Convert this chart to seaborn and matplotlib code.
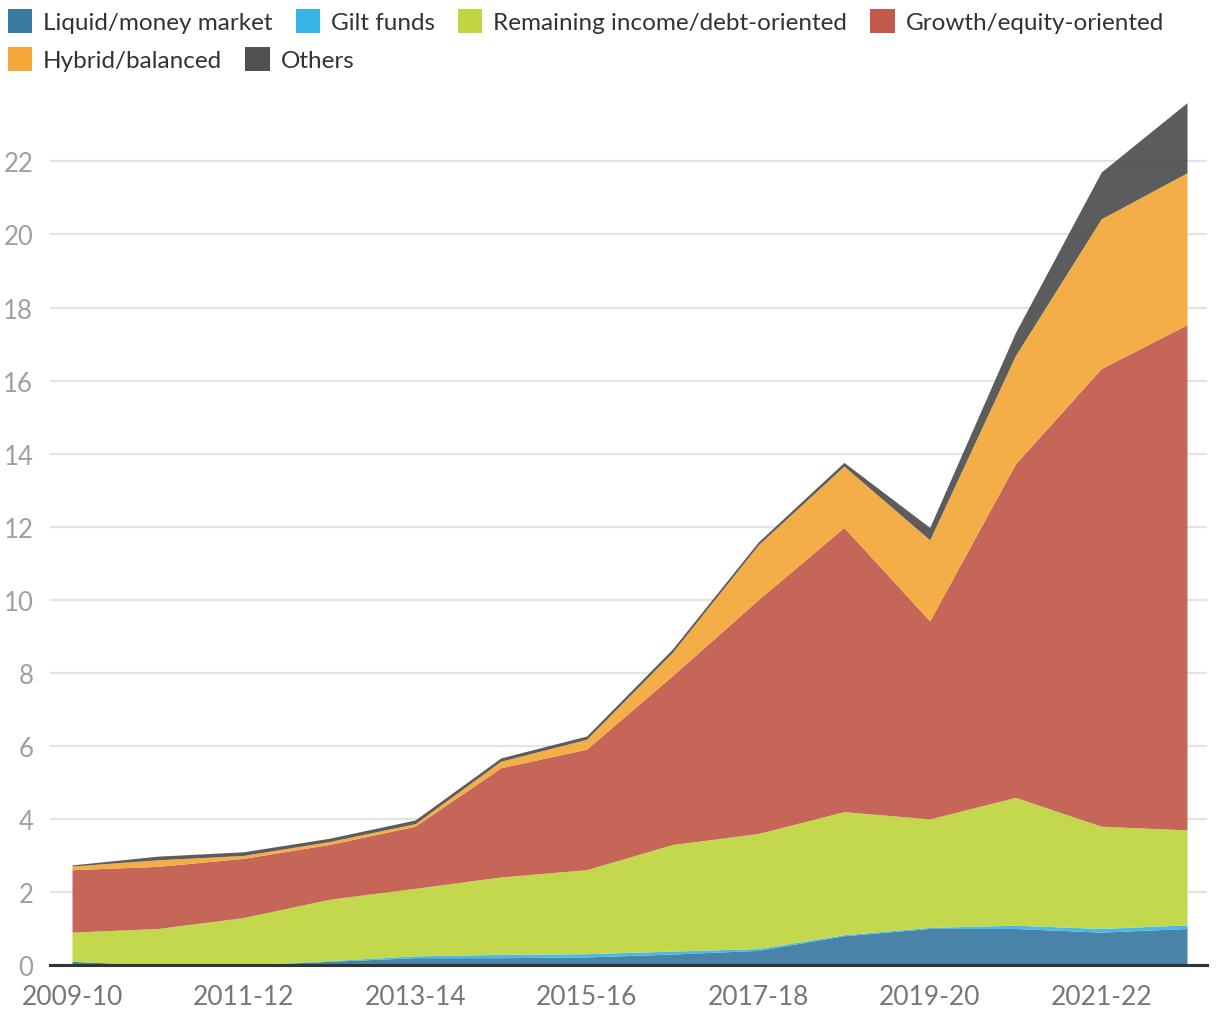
import pandas as pd
import seaborn as sns
import matplotlib.pyplot as plt
from matplotlib.patches import Patch

years = ['2009-10', '2010-11', '2011-12', '2012-13', '2013-14', '2014-15', '2015-16',
         '2016-17', '2017-18', '2018-19', '2019-20', '2020-21', '2021-22', '2022-23']

liquid = [0.1, 0.0, 0.0, 0.1, 0.2, 0.2, 0.22, 0.3, 0.4, 0.8, 1.0, 1.0, 0.9, 1.0]
gilt = [0.0, 0.0, 0.0, 0.02, 0.05, 0.09, 0.09, 0.08, 0.05, 0.03, 0.03, 0.09, 0.1, 0.1]
remaining = [0.8, 1.0, 1.3, 1.68, 1.85, 2.12, 2.3, 2.92, 3.15, 3.37, 2.97, 3.5, 2.8, 2.6]
growth = [1.71, 1.7, 1.62, 1.5, 1.7, 2.99, 3.3, 4.62, 6.4, 7.78, 5.42, 9.13, 12.53, 13.83]
hybrid = [0.1, 0.18, 0.08, 0.08, 0.07, 0.18, 0.27, 0.64, 1.5, 1.68, 2.22, 2.97, 4.1, 4.16]
others = [0.03, 0.1, 0.1, 0.09, 0.1, 0.09, 0.09, 0.09, 0.08, 0.1, 0.34, 0.63, 1.28, 1.92]

labels = ['Liquid/money market', 'Gilt funds', 'Remaining income/debt-oriented',
          'Growth/equity-oriented', 'Hybrid/balanced', 'Others']
# slightly deeper than the seen colours, since the areas are a bit see-through
colors = ['#3b7aa0', '#38b5e7', '#c0d540', '#c25a4b', '#f4a83a', '#505050']

df = pd.DataFrame({'year': years, labels[0]: liquid, labels[1]: gilt, labels[2]: remaining,
                   labels[3]: growth, labels[4]: hybrid, labels[5]: others})

sns.set_theme(style='whitegrid', rc={
    'axes.edgecolor': '#333333',
    'grid.color': '#e4e4e4',
    'grid.linewidth': 1.6,
    'xtick.major.size': 0,
    'ytick.major.size': 0,
})
plt.rcParams['font.family'] = ['Lato', 'DejaVu Sans']

fig = plt.figure(figsize=(12.2, 10.2), dpi=100)
ax = fig.add_axes([50 / 1220, 54 / 1020, 1157 / 1220, 862 / 1020])

x = list(range(len(years)))
ax.stackplot(x, *[df[l] for l in labels], colors=colors, alpha=0.93, linewidth=0, zorder=2)

ax.set_xlim(-22 / 85.77, 13 + 20 / 85.77)
ax.set_ylim(0, 23.6)
ax.set_yticks(range(0, 23, 2))
ax.set_xticks(x[::2])
ax.set_xticklabels(years[::2])
ax.grid(axis='x', visible=False)
ax.grid(axis='y', zorder=0)
ax.set_axisbelow(True)

for s in ['left', 'right', 'top']:
    ax.spines[s].set_visible(False)
ax.spines['bottom'].set_linewidth(2.2)
ax.spines['bottom'].set_color('#333333')
ax.spines['bottom'].set_zorder(5)

ax.tick_params(axis='y', labelsize=18.5, labelcolor='#a0a0a0', pad=12)
ax.tick_params(axis='x', labelsize=19, labelcolor='#777777', pad=14)

handles = [Patch(facecolor=c, edgecolor='none') for c in colors]
leg_kw = dict(frameon=False, fontsize=17.5, handlelength=1.0, handleheight=1.15,
              handletextpad=0.45, columnspacing=0.95, borderpad=0, borderaxespad=0,
              labelcolor='#333333')
leg1 = fig.legend(handles[:4], labels[:4], ncol=4, loc='upper left',
                  bbox_to_anchor=(8 / 1220, 1 - 10 / 1020), **leg_kw)
leg2 = fig.legend(handles[4:], labels[4:], ncol=2, loc='upper left',
                  bbox_to_anchor=(8 / 1220, 1 - 48 / 1020), **leg_kw)

fig.savefig('out.png', dpi=100)
